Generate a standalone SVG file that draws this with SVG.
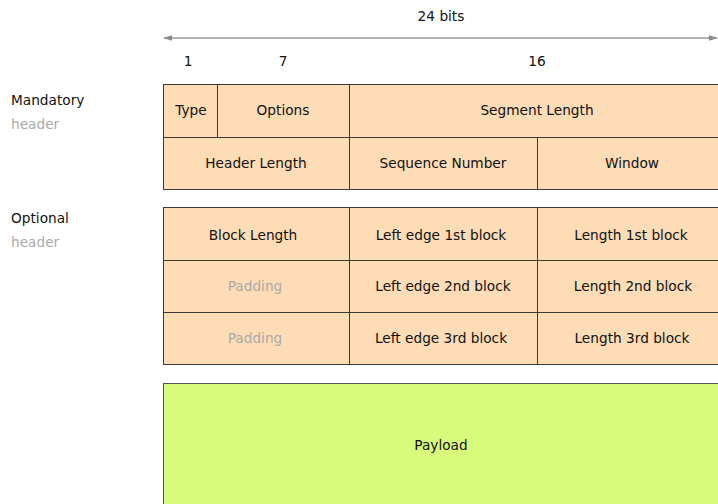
<svg xmlns="http://www.w3.org/2000/svg" width="718" height="504" viewBox="0 0 718 504">
<defs>
<style>
text{font-family:"DejaVu Sans",Verdana,sans-serif;font-size:13.7px;fill:#111;}
.c{text-anchor:middle;}
.g{fill:#aaa;}
.cell{fill:#fddcb6;stroke:#3a3a3a;stroke-width:1;}
.pay{fill:#d8fb7c;stroke:#555;stroke-width:1;}
.ln{stroke:#3a3a3a;stroke-width:1;fill:none;}
</style>
<marker id="ah" viewBox="0 0 10 10" refX="9" refY="5" markerWidth="9" markerHeight="9" orient="auto-start-reverse" markerUnits="userSpaceOnUse">
<path d="M0,2 L10,5 L0,8 z" fill="#888"/>
</marker>
</defs>
<g id="scale">
<text class="c" x="441" y="21">24 bits</text>
<text class="c" x="188" y="66">1</text>
<text class="c" x="283" y="66">7</text>
<text class="c" x="537" y="66">16</text>
</g>
<g id="connectors">
<line x1="164" y1="38" x2="717" y2="38" stroke="#999" stroke-width="1.5" marker-start="url(#ah)" marker-end="url(#ah)"/>
</g>
<g id="labels">
<text x="11" y="105">Mandatory</text>
<text class="g" x="11" y="129">header</text>
<text x="11" y="223">Optional</text>
<text class="g" x="11" y="247">header</text>
</g>
<g id="mandatory">
<rect class="cell" x="163.5" y="84.5" width="560" height="105"/>
<line class="ln" x1="163.5" y1="137.5" x2="723" y2="137.5"/>
<line class="ln" x1="217.5" y1="84.5" x2="217.5" y2="137.5"/>
<line class="ln" x1="349.5" y1="84.5" x2="349.5" y2="189.5"/>
<line class="ln" x1="537.5" y1="137.5" x2="537.5" y2="189.5"/>
<text class="c" x="191" y="115">Type</text>
<text class="c" x="283" y="115">Options</text>
<text class="c" x="537" y="115">Segment Length</text>
<text class="c" x="256" y="168">Header Length</text>
<text class="c" x="443" y="168">Sequence Number</text>
<text class="c" x="632" y="168">Window</text>
</g>
<g id="optional">
<rect class="cell" x="163.5" y="207.5" width="560" height="157"/>
<line class="ln" x1="163.5" y1="260.5" x2="723" y2="260.5"/>
<line class="ln" x1="163.5" y1="312.5" x2="723" y2="312.5"/>
<line class="ln" x1="349.5" y1="207.5" x2="349.5" y2="364.5"/>
<line class="ln" x1="537.5" y1="207.5" x2="537.5" y2="364.5"/>
<text class="c" x="253" y="240">Block Length</text>
<text class="c" x="441" y="240">Left edge 1st block</text>
<text class="c" x="631" y="240">Length 1st block</text>
<text class="c g" x="255" y="291">Padding</text>
<text class="c" x="443" y="291">Left edge 2nd block</text>
<text class="c" x="633" y="291">Length 2nd block</text>
<text class="c g" x="255" y="343">Padding</text>
<text class="c" x="441" y="343">Left edge 3rd block</text>
<text class="c" x="632" y="343">Length 3rd block</text>
</g>
<g id="payload">
<rect class="pay" x="163.5" y="383.5" width="560" height="130"/>
<text class="c" x="441" y="450">Payload</text>
</g>
</svg>
